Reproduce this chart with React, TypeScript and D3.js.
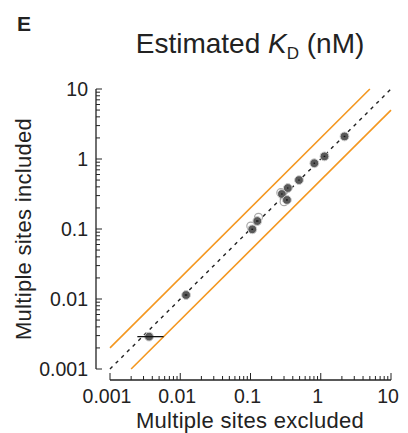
import React from "react";
import * as d3 from "d3";

const excluded = [0.0036, 0.0121, 0.106, 0.125, 0.28, 0.33, 0.34, 0.49, 0.81, 1.13, 2.18];
const included = [0.0029, 0.0114, 0.099, 0.13, 0.316, 0.26, 0.385, 0.5, 0.87, 1.09, 2.1];
const errLo = [0.00245, 0.0116, 0.103, 0.12, 0.275, 0.32, 0.335, 0.48, 0.79, 1.1, 2.12];
const errHi = [0.0058, 0.0126, 0.109, 0.13, 0.285, 0.34, 0.345, 0.5, 0.83, 1.16, 2.24];

const hollowX = [0.101, 0.13, 0.301, 0.27];
const hollowY = [0.11, 0.147, 0.246, 0.33];

const tickValues = [0.001, 0.01, 0.1, 1, 10];
const tickLabels = ["0.001", "0.01", "0.1", "1", "10"];

const FONT = "'Liberation Sans', Arial, Helvetica, sans-serif";
const ORANGE = "#f4971f";
const INK = "#222";

export default function App() {
  const x = d3.scaleLog().domain([0.001, 10]).range([110, 391]);
  const y = d3.scaleLog().domain([0.001, 10]).range([369, 89]);
  const xAxisY = 380;
  const yAxisX = 96;

  const minor: number[] = [];
  for (let e = -3; e < 1; e++) {
    for (let m = 1; m <= 9; m++) minor.push(m * Math.pow(10, e));
  }
  minor.push(10);
  const isMajor = (v: number) => tickValues.some((t) => Math.abs(t - v) / t < 1e-6);

  const diag = d3.line<[number, number]>().x((d) => x(d[0])).y((d) => y(d[1]));

  return (
    <svg width={408} height={433} style={{ position: "absolute", left: 0, top: 0, background: "#fff" }}>
      <text x={17} y={31} fontFamily={FONT} fontWeight="bold" fontSize={21} fill={INK}>E</text>
      <text x={250} y={53} textAnchor="middle" fontFamily={FONT} fontSize={28} fill={INK}>
        Estimated <tspan fontStyle="italic">K</tspan>
        <tspan fontSize={17} dy={6}>D</tspan>
        <tspan dy={-6}> (nM)</tspan>
      </text>

      {/* reference lines */}
      <path d={diag([[0.001, 0.002], [5, 10]]) || ""} stroke={ORANGE} strokeWidth={1.6} fill="none" />
      <path d={diag([[0.002, 0.001], [10, 5]]) || ""} stroke={ORANGE} strokeWidth={1.6} fill="none" />
      <path d={diag([[0.001, 0.001], [10, 10]]) || ""} stroke={INK} strokeWidth={1.4} strokeDasharray="3.5,4.5" fill="none" />

      {/* hollow points */}
      {hollowX.map((v, i) => (
        <circle key={"h" + i} cx={x(v)} cy={y(hollowY[i])} r={4} fill="#fff" stroke="#aaa" strokeWidth={1.2} />
      ))}

      {/* points with error bars */}
      {excluded.map((v, i) => (
        <g key={"p" + i}>
          <circle cx={x(v)} cy={y(included[i])} r={4.4} fill="#595959" stroke="#d0d0d0" strokeWidth={1} />
          <line x1={x(errLo[i])} x2={x(errHi[i])} y1={y(included[i])} y2={y(included[i])} stroke="#111" strokeWidth={1.3} />
        </g>
      ))}

      {/* y axis */}
      <line x1={yAxisX} x2={yAxisX} y1={y(10)} y2={y(0.001)} stroke={INK} strokeWidth={1.3} />
      {minor.map((v, i) => (
        <line key={"yt" + i} x1={yAxisX} x2={yAxisX + (isMajor(v) ? 6 : 4)} y1={y(v)} y2={y(v)} stroke={INK} strokeWidth={1} />
      ))}
      {tickValues.map((v, i) => (
        <text key={"yl" + i} x={88} y={y(v) + 7} textAnchor="end" fontFamily={FONT} fontSize={19.5} fill={INK}>
          {tickLabels[i]}
        </text>
      ))}

      {/* x axis */}
      <line x1={x(0.001)} x2={x(10)} y1={xAxisY} y2={xAxisY} stroke={INK} strokeWidth={1.3} />
      {minor.map((v, i) => (
        <line key={"xt" + i} x1={x(v)} x2={x(v)} y1={xAxisY} y2={xAxisY - (isMajor(v) ? 7 : 4)} stroke={INK} strokeWidth={1} />
      ))}
      {tickValues.map((v, i) => (
        <text key={"xl" + i} x={x(v) - 3} y={403} textAnchor="middle" fontFamily={FONT} fontSize={19.5} fill={INK}>
          {tickLabels[i]}
        </text>
      ))}

      <text x={250} y={428} textAnchor="middle" fontFamily={FONT} fontSize={22} letterSpacing={0.3} fill={INK}>
        Multiple sites excluded
      </text>
      <text transform="translate(31,229) rotate(-90)" textAnchor="middle" fontFamily={FONT} fontSize={22} letterSpacing={0.3} fill={INK}>
        Multiple sites included
      </text>
    </svg>
  );
}
